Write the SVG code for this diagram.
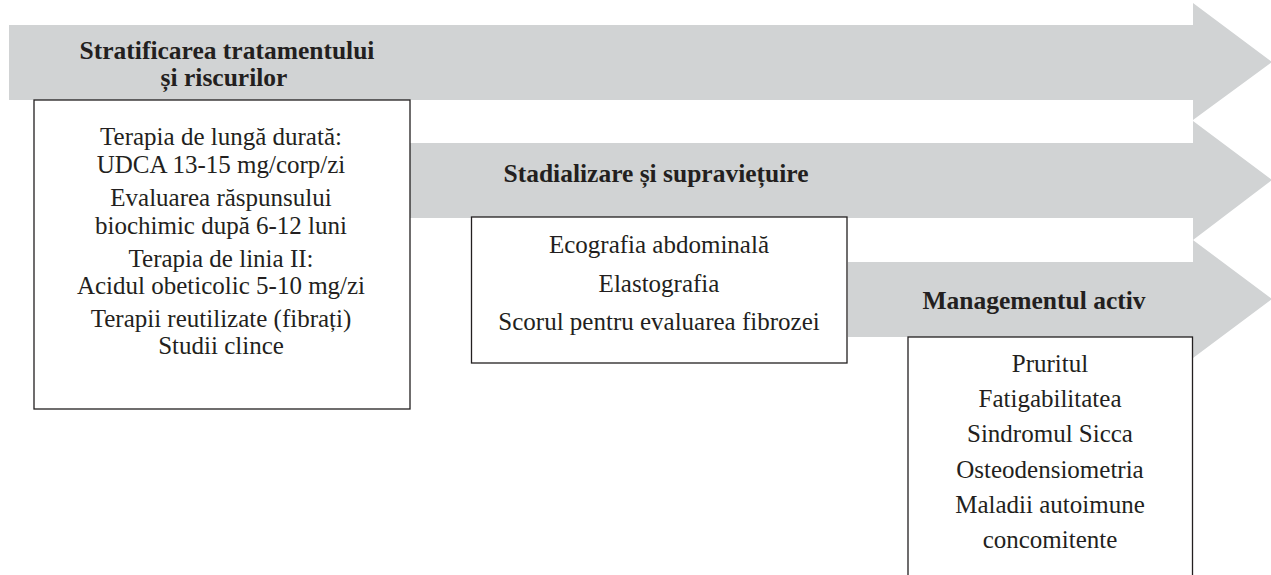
<svg xmlns="http://www.w3.org/2000/svg" width="1271" height="575" viewBox="0 0 1271 575">
<style>
.arrow{fill:#d1d3d4;stroke:none}
.box{fill:#ffffff;stroke:#231f20;stroke-width:1.3}
.hd{font-family:'Liberation Serif','Times New Roman',Tinos,'DejaVu Serif',serif;font-weight:bold;font-size:25.5px;fill:#231f20;text-anchor:middle}
.tx{font-family:'Liberation Serif','Times New Roman',Tinos,'DejaVu Serif',serif;font-size:25px;fill:#231f20;text-anchor:middle}
</style>
<rect width="1271" height="575" fill="#ffffff"/>
<g id="connectors">
<polygon class="arrow" points="9,25 1193,25 1193,3 1272,62 1193,120 1193,100 9,100"/>
<polygon class="arrow" points="410,143 1193,143 1193,121 1272,180 1193,240 1193,218 410,218"/>
<polygon class="arrow" points="848,262 1193,262 1193,240 1272,299 1193,358 1193,337 848,337"/>
</g>
<g id="header1" font-family="Liberation Serif, serif">
<text class="hd" x="227" y="59">Stratificarea tratamentului</text>
<text class="hd" x="224" y="86">și riscurilor</text>
</g>
<g id="header2">
<text class="hd" x="656" y="182">Stadializare și supraviețuire</text>
</g>
<g id="header3">
<text class="hd" x="1034" y="309">Managementul activ</text>
</g>
<g id="box1">
<rect class="box" x="34" y="100" width="376" height="309"/>
<text class="tx" x="221" y="145">Terapia de lungă durată:</text>
<text class="tx" x="221" y="173">UDCA 13-15 mg/corp/zi</text>
<text class="tx" x="221" y="206">Evaluarea răspunsului</text>
<text class="tx" x="221" y="234">biochimic după 6-12 luni</text>
<text class="tx" x="221" y="267">Terapia de linia II:</text>
<text class="tx" x="221" y="294">Acidul obeticolic 5-10 mg/zi</text>
<text class="tx" x="221" y="327">Terapii reutilizate (fibrați)</text>
<text class="tx" x="221" y="354">Studii clince</text>
</g>
<g id="box2">
<rect class="box" x="471.5" y="217" width="375.5" height="146"/>
<text class="tx" x="659" y="253">Ecografia abdominală</text>
<text class="tx" x="659" y="292">Elastografia</text>
<text class="tx" x="659" y="330">Scorul pentru evaluarea fibrozei</text>
</g>
<g id="box3">
<rect class="box" x="908" y="337" width="284.5" height="260"/>
<text class="tx" x="1050" y="372">Pruritul</text>
<text class="tx" x="1050" y="407">Fatigabilitatea</text>
<text class="tx" x="1050" y="442">Sindromul Sicca</text>
<text class="tx" x="1050" y="478">Osteodensiometria</text>
<text class="tx" x="1050" y="513">Maladii autoimune</text>
<text class="tx" x="1050" y="548">concomitente</text>
</g>
</svg>
